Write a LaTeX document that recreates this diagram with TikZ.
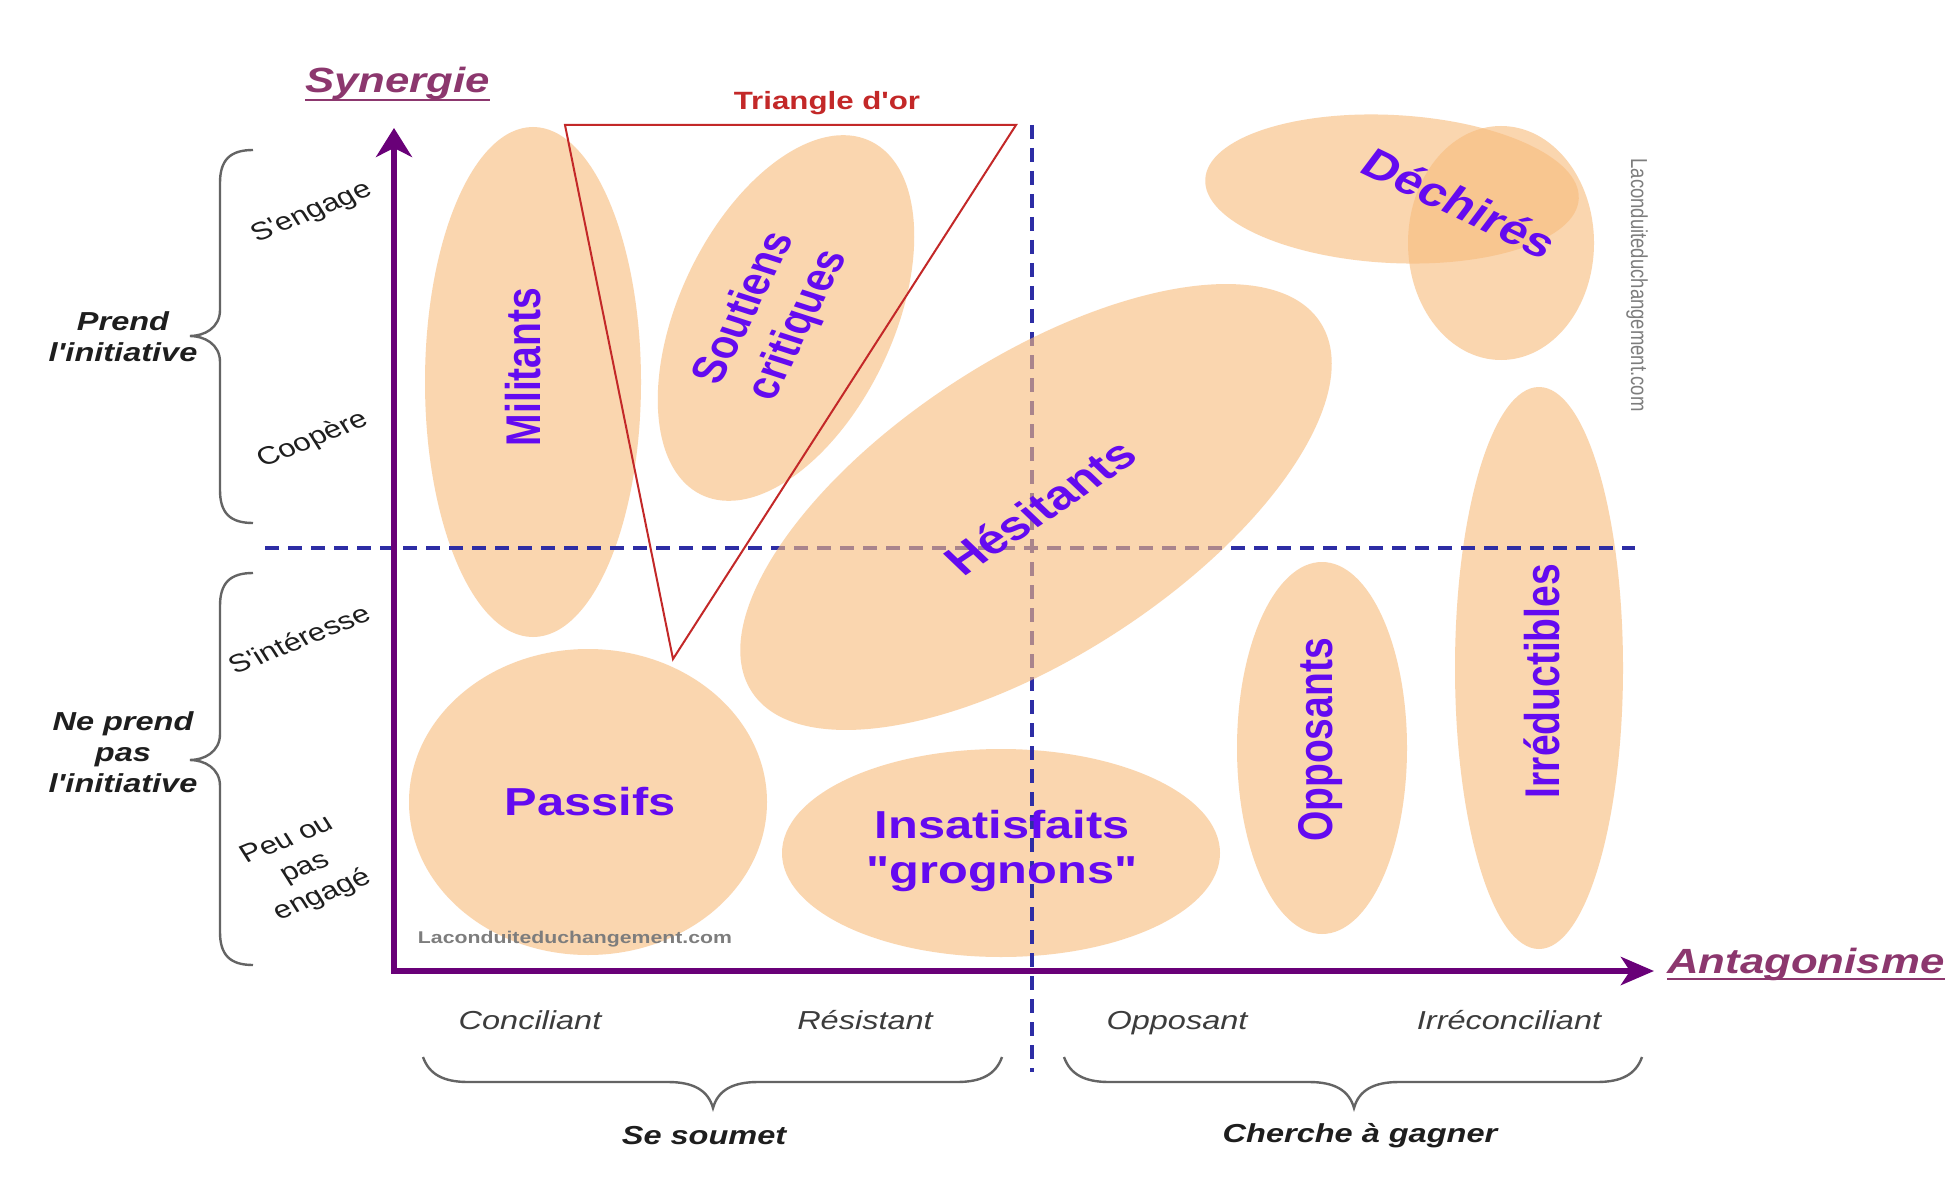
\documentclass[tikz,border=0pt]{standalone}
\usepackage{fontspec}
\setmainfont{Liberation Sans}[Ligatures=TeXOff]
\usepackage{graphicx}
\usetikzlibrary{arrows.meta}

\definecolor{axiscol}{RGB}{105,0,120}
\definecolor{titlecol}{RGB}{140,55,110}
\definecolor{groupcol}{RGB}{100,10,240}
\definecolor{blobcol}{RGB}{248,188,125}
\definecolor{dashcol}{RGB}{45,45,165}
\definecolor{goldcol}{RGB}{195,40,40}
\definecolor{bracecol}{RGB}{100,100,100}
\definecolor{inkcol}{RGB}{30,30,30}
\definecolor{stancecol}{RGB}{60,60,60}
\definecolor{markcol}{RGB}{125,125,125}

% text is set slightly wide (horizontal stretch), optionally rotated first
\newcommand\sx[1]{\scalebox{1.25}[1]{#1}}
\newcommand\sxr[2]{\scalebox{1.25}[1]{\rotatebox{#1}{#2}}}
\newcommand\linesof[1]{\begin{tabular}{@{}c@{}}#1\end{tabular}}

% curly brace opening to the right: top y, tip y, bottom y
\newcommand\drawleftbrace[3]{%
  \draw[bracket] (253,#1) .. controls (230,#1) and (220,{#1+10}) .. (220,{#1+33})
    -- (220,{#2-26}) .. controls (220,{#2-8}) and (204,#2) .. (190,#2)
    .. controls (204,#2) and (220,{#2+8}) .. (220,{#2+26})
    -- (220,{#3-33}) .. controls (220,{#3-10}) and (230,#3) .. (253,#3);}
% curly brace opening upwards: left x, tip x, right x
\newcommand\drawbottombrace[3]{%
  \draw[bracket] (#1,1057) .. controls ({#1+6},1074) and ({#1+20},1082) .. ({#1+45},1082)
    -- ({#2-45},1082) .. controls ({#2-20},1082) and ({#2-5},1090) .. (#2,1108)
    .. controls ({#2+5},1090) and ({#2+20},1082) .. ({#2+45},1082)
    -- ({#3-45},1082) .. controls ({#3-20},1082) and ({#3-6},1074) .. (#3,1057);}

\begin{document}
\begin{tikzpicture}[x=1pt, y=-1pt,
  blob/.style={fill=blobcol, fill opacity=.61},
  group/.style={inner sep=0, text=groupcol, font=\bfseries\fontsize{39}{45}\selectfont},
  grouplarge/.style={group, font=\bfseries\fontsize{41}{47}\selectfont},
  axislabel/.style={inner sep=0, text=titlecol, font=\bfseries\itshape\fontsize{35}{40}\selectfont},
  level/.style={inner sep=0, text=inkcol, font=\fontsize{25}{31}\selectfont},
  stance/.style={inner sep=0, anchor=base, text=stancecol, font=\itshape\fontsize{26}{31}\selectfont},
  attitude/.style={inner sep=0, text=inkcol, font=\bfseries\itshape\fontsize{26}{31}\selectfont},
  watermark/.style={inner sep=0, text=markcol, font=\fontsize{18.5}{22}\selectfont},
  gridline/.style={dashcol, line width=3.2pt, dash pattern=on 14pt off 9pt},
  goldline/.style={goldcol, line width=2pt},
  axisline/.style={axiscol, line width=6pt},
  bracket/.style={bracecol, line width=2.4pt},
  underline/.style={titlecol, line width=2.2pt}]

\fill[white] (0,0) rectangle (1957,1182);
\useasboundingbox (0,0) rectangle (1957,1182);

% groups of actors
\fill[blob] (533,382) ellipse [x radius=108pt, y radius=255pt];
\fill[blob, rotate around={64.5:(786,318)}] (786,318) ellipse [x radius=196pt, y radius=107pt];
\fill[blob] (588,802) ellipse [x radius=179pt, y radius=153pt];
\fill[blob] (1001,853) ellipse [x radius=219pt, y radius=104pt];
\fill[blob] (1322,748) ellipse [x radius=85pt, y radius=186pt];
\fill[blob] (1539,668) ellipse [x radius=84pt, y radius=281pt];
\fill[blob, rotate around={-3:(1392,189)}] (1392,189) ellipse [x radius=187pt, y radius=74pt];
\fill[blob] (1501,243) ellipse [x radius=93pt, y radius=117pt];

% quadrant lines
\coordinate (vtop) at (1032,125);
\coordinate (vbot) at (1032,1072);
\coordinate (hleft) at (265,548);
\coordinate (hright) at (1635,548);
\draw[gridline] (vtop) -- (vbot);
\draw[gridline] (hleft) -- (hright);

% golden triangle
\coordinate (ga) at (565,125);
\coordinate (gb) at (1016,125);
\coordinate (gc) at (673,659);
\draw[goldline] (ga) -- (gb) -- (gc) -- cycle;

% the hesitant group lies over the quadrant lines
\fill[blob, rotate around={33:(1036,507)}] (1036,507) ellipse [x radius=339pt, y radius=149pt];

% axes
\coordinate (origin) at (394,971);
\coordinate (ytip) at (394,128);
\coordinate (xtip) at (1654,971);
\draw[axisline, {Stealth[length=29pt,width=36pt,inset=9pt]}-{Stealth[length=33pt,width=28pt,inset=9pt]}]
  (ytip) -- (origin) -- (xtip);

\node[axislabel, anchor=base west] (synergie) at (305,93) {\sx{Synergie}};
\draw[underline] ([yshift=-7pt]synergie.base west) -- ([yshift=-7pt]synergie.base east);
\node[axislabel, anchor=base west] (antagonisme) at (1667,973) {\sx{Antagonisme}};
\draw[underline] ([yshift=-6pt]antagonisme.base west) -- ([yshift=-6pt]antagonisme.base east);

\node[inner sep=0, text=goldcol, font=\bfseries\fontsize{25}{30}\selectfont] (triangle) at (827,103) {\sx{Triangle d'or}};

% group names
\node[group] (militants) at (523,367) {\sxr{90}{Militants}};
\node[group, font=\bfseries\fontsize{38}{46}\selectfont] (soutiens) at (773,317) {\sxr{68}{\linesof{Soutiens\\critiques}}};
\node[grouplarge] (hesitants) at (1040,507) {\sxr{40}{Hésitants}};
\node[grouplarge] (dechires) at (1460,203) {\sxr{-31}{Déchirés}};
\node[group] (passifs) at (590,802) {\sx{Passifs}};
\node[group] (insatisfaits) at (1002,852) {\sx{\linesof{Insatisfaits\\"grognons"}}};
\node[group] (opposants) at (1321,740) {\sxr{90}{Opposants}};
\node[group] (irreductibles) at (1542,681) {\sxr{90}{Irréductibles}};

% vertical scale
\drawleftbrace{150}{336}{523}
\drawleftbrace{573}{760}{965}
\node[attitude] (prend) at (123,340) {\sx{\linesof{Prend\\l'initiative}}};
\node[attitude] (neprend) at (123,755) {\sx{\linesof{Ne prend\\pas\\l'initiative}}};
\node[level] (engage) at (312,213) {\sxr{27}{S'engage}};
\node[level] (coopere) at (313,440) {\sxr{27}{Coopère}};
\node[level] (interesse) at (299,639) {\sxr{27}{S'intéresse}};
\node[level] (peu) at (305,868) {\sxr{27}{\linesof{Peu ou\\pas\\engagé}}};

% horizontal scale
\node[stance] (conciliant) at (530,1029) {\sx{Conciliant}};
\node[stance] (resistant) at (865,1029) {\sx{Résistant}};
\node[stance] (opposant) at (1177,1029) {\sx{Opposant}};
\node[stance] (irreconciliant) at (1509,1029) {\sx{Irréconciliant}};
\drawbottombrace{423}{713}{1002}
\drawbottombrace{1064}{1354}{1642}
\node[attitude, anchor=base] (soumet) at (704,1144) {\sx{Se soumet}};
\node[attitude, anchor=base] (gagner) at (1360,1142) {\sx{Cherche à gagner}};

% site marks
\node[watermark, font=\bfseries\fontsize{17}{20}\selectfont] (markbottom) at (575,939) {\sx{Laconduiteduchangement.com}};
\node[watermark] (markside) at (1637,285) {\sxr{-90}{Laconduiteduchangement.com}};

\end{tikzpicture}
\end{document}
